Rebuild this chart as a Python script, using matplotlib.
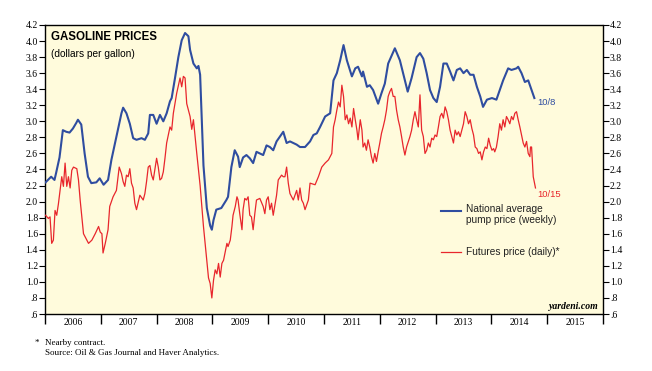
import numpy as np
import matplotlib
matplotlib.use("Agg")
import matplotlib.pyplot as plt
from matplotlib.ticker import FixedLocator, FuncFormatter

# national average pump price (weekly)
pump_t = [2006.01, 2006.08, 2006.11, 2006.17, 2006.20, 2006.26, 2006.32, 2006.38, 2006.44, 2006.50,
          2006.56, 2006.59, 2006.65, 2006.71, 2006.77, 2006.83, 2006.92, 2006.98, 2007.05, 2007.13,
          2007.19, 2007.28, 2007.37, 2007.40, 2007.46, 2007.52, 2007.58, 2007.64, 2007.73, 2007.79,
          2007.85, 2007.88, 2007.94, 2008.00, 2008.06, 2008.12, 2008.18, 2008.24, 2008.27, 2008.33,
          2008.39, 2008.45, 2008.51, 2008.57, 2008.60, 2008.66, 2008.72, 2008.75, 2008.78, 2008.81,
          2008.84, 2008.90, 2008.96, 2008.99, 2009.02, 2009.07, 2009.16, 2009.25, 2009.28, 2009.34,
          2009.40, 2009.46, 2009.49, 2009.55, 2009.61, 2009.67, 2009.73, 2009.79, 2009.85, 2009.91,
          2009.97, 2010.03, 2010.09, 2010.15, 2010.21, 2010.27, 2010.33, 2010.39, 2010.45, 2010.51,
          2010.57, 2010.66, 2010.75, 2010.81, 2010.87, 2010.93, 2011.02, 2011.11, 2011.17, 2011.23,
          2011.29, 2011.35, 2011.41, 2011.50, 2011.56, 2011.61, 2011.68, 2011.70, 2011.77, 2011.82,
          2011.88, 2011.97, 2012.03, 2012.09, 2012.15, 2012.27, 2012.36, 2012.45, 2012.50, 2012.57,
          2012.66, 2012.72, 2012.78, 2012.84, 2012.90, 2012.96, 2013.02, 2013.08, 2013.14, 2013.20,
          2013.26, 2013.32, 2013.38, 2013.44, 2013.50, 2013.56, 2013.62, 2013.68, 2013.74, 2013.80,
          2013.85, 2013.92, 2014.01, 2014.09, 2014.15, 2014.21, 2014.30, 2014.36, 2014.45, 2014.48,
          2014.54, 2014.60, 2014.66, 2014.77]
pump_v = [2.24, 2.29, 2.31, 2.27, 2.36, 2.55, 2.89, 2.87, 2.86, 2.91,
          2.98, 3.02, 2.96, 2.60, 2.31, 2.23, 2.24, 2.29, 2.21, 2.27,
          2.52, 2.81, 3.10, 3.17, 3.10, 2.97, 2.79, 2.77, 2.79, 2.77,
          2.85, 3.08, 3.08, 2.97, 3.08, 3.00, 3.10, 3.25, 3.29, 3.54,
          3.80, 4.01, 4.10, 4.06, 3.89, 3.72, 3.66, 3.69, 3.58, 3.02,
          2.45, 1.92, 1.70, 1.65, 1.77, 1.90, 1.92, 2.02, 2.06, 2.43,
          2.64, 2.56, 2.43, 2.55, 2.58, 2.54, 2.48, 2.62, 2.60, 2.58,
          2.70, 2.68, 2.64, 2.75, 2.81, 2.87, 2.73, 2.75, 2.73, 2.71,
          2.68, 2.68, 2.75, 2.83, 2.85, 2.93, 3.06, 3.10, 3.51, 3.60,
          3.76, 3.95, 3.76, 3.56, 3.66, 3.68, 3.56, 3.62, 3.43, 3.45,
          3.39, 3.22, 3.35, 3.47, 3.72, 3.91, 3.76, 3.51, 3.37, 3.54,
          3.80, 3.85, 3.78, 3.60, 3.39, 3.29, 3.24, 3.43, 3.72, 3.72,
          3.62, 3.51, 3.64, 3.66, 3.60, 3.64, 3.58, 3.58, 3.43, 3.31,
          3.18, 3.27, 3.29, 3.27, 3.39, 3.51, 3.66, 3.64, 3.66, 3.68,
          3.60, 3.49, 3.51, 3.29]

# futures price (daily)
fut_t = [2006.01, 2006.06, 2006.09, 2006.12, 2006.15, 2006.18, 2006.21, 2006.24, 2006.27, 2006.30,
         2006.33, 2006.36, 2006.39, 2006.42, 2006.45, 2006.48, 2006.51, 2006.57, 2006.60, 2006.63,
         2006.69, 2006.75, 2006.78, 2006.84, 2006.90, 2006.96, 2006.99, 2007.02, 2007.04, 2007.08,
         2007.13, 2007.16, 2007.22, 2007.28, 2007.33, 2007.37, 2007.40, 2007.43, 2007.46, 2007.49,
         2007.52, 2007.55, 2007.58, 2007.61, 2007.64, 2007.70, 2007.76, 2007.79, 2007.82, 2007.85,
         2007.88, 2007.91, 2007.94, 2008.00, 2008.03, 2008.06, 2008.09, 2008.12, 2008.15, 2008.18,
         2008.24, 2008.27, 2008.30, 2008.36, 2008.42, 2008.45, 2008.48, 2008.51, 2008.54, 2008.60,
         2008.63, 2008.66, 2008.72, 2008.78, 2008.84, 2008.90, 2008.93, 2008.96, 2008.99, 2009.02,
         2009.05, 2009.08, 2009.11, 2009.14, 2009.17, 2009.20, 2009.26, 2009.28, 2009.32, 2009.35,
         2009.37, 2009.41, 2009.44, 2009.46, 2009.49, 2009.53, 2009.55, 2009.58, 2009.61, 2009.64,
         2009.67, 2009.70, 2009.73, 2009.76, 2009.79, 2009.85, 2009.91, 2009.94, 2009.97, 2010.00,
         2010.03, 2010.06, 2010.09, 2010.15, 2010.18, 2010.24, 2010.27, 2010.30, 2010.33, 2010.36,
         2010.39, 2010.45, 2010.48, 2010.51, 2010.54, 2010.57, 2010.60, 2010.63, 2010.66, 2010.69,
         2010.72, 2010.75, 2010.84, 2010.90, 2010.96, 2011.02, 2011.08, 2011.14, 2011.17, 2011.20,
         2011.23, 2011.26, 2011.29, 2011.32, 2011.35, 2011.38, 2011.41, 2011.44, 2011.47, 2011.50,
         2011.53, 2011.56, 2011.59, 2011.61, 2011.65, 2011.68, 2011.70, 2011.73, 2011.76, 2011.79,
         2011.82, 2011.85, 2011.88, 2011.91, 2011.94, 2011.97, 2012.00, 2012.03, 2012.06, 2012.09,
         2012.12, 2012.15, 2012.18, 2012.21, 2012.24, 2012.27, 2012.30, 2012.33, 2012.36, 2012.39,
         2012.42, 2012.45, 2012.48, 2012.54, 2012.57, 2012.60, 2012.63, 2012.66, 2012.69, 2012.72,
         2012.75, 2012.78, 2012.81, 2012.84, 2012.87, 2012.90, 2012.93, 2012.96, 2012.99, 2013.02,
         2013.05, 2013.08, 2013.11, 2013.14, 2013.17, 2013.20, 2013.23, 2013.26, 2013.29, 2013.32,
         2013.35, 2013.38, 2013.41, 2013.44, 2013.47, 2013.50, 2013.53, 2013.56, 2013.59, 2013.62,
         2013.65, 2013.68, 2013.71, 2013.74, 2013.77, 2013.80, 2013.83, 2013.86, 2013.89, 2013.92,
         2013.95, 2013.98, 2014.01, 2014.04, 2014.06, 2014.09, 2014.12, 2014.15, 2014.18, 2014.21,
         2014.24, 2014.27, 2014.30, 2014.33, 2014.36, 2014.39, 2014.42, 2014.45, 2014.48, 2014.51,
         2014.54, 2014.57, 2014.60, 2014.63, 2014.66, 2014.69, 2014.70, 2014.72, 2014.75, 2014.79]
fut_v = [1.83, 1.79, 1.81, 1.48, 1.52, 1.89, 1.83, 1.97, 2.14, 2.31,
         2.19, 2.48, 2.19, 2.31, 2.17, 2.39, 2.43, 2.41, 2.27, 2.02,
         1.60, 1.52, 1.48, 1.52, 1.60, 1.69, 1.62, 1.60, 1.36, 1.48,
         1.65, 1.94, 2.06, 2.14, 2.43, 2.35, 2.25, 2.19, 2.33, 2.31,
         2.41, 2.23, 2.17, 1.98, 1.90, 2.08, 2.02, 2.10, 2.25, 2.43,
         2.45, 2.33, 2.27, 2.54, 2.43, 2.27, 2.29, 2.37, 2.54, 2.73,
         2.93, 2.89, 3.10, 3.35, 3.54, 3.43, 3.56, 3.54, 3.22, 3.06,
         2.90, 3.02, 2.60, 2.20, 1.69, 1.27, 1.05, 0.98, 0.80, 1.02,
         1.15, 1.10, 1.23, 1.06, 1.23, 1.27, 1.48, 1.44, 1.52, 1.69,
         1.83, 1.94, 2.06, 2.02, 1.85, 1.65, 1.90, 2.04, 2.02, 2.06,
         1.83, 1.81, 1.65, 1.85, 2.02, 2.04, 1.94, 1.85, 2.02, 2.06,
         1.90, 1.98, 1.83, 2.08, 2.27, 2.33, 2.31, 2.31, 2.43, 2.23,
         2.10, 2.02, 2.08, 2.14, 2.02, 2.17, 2.02, 1.98, 1.90, 1.96,
         2.02, 2.23, 2.21, 2.31, 2.43, 2.48, 2.52, 2.60, 2.93, 3.02,
         3.14, 3.24, 3.18, 3.45, 3.31, 3.02, 3.08, 2.97, 3.04, 2.93,
         3.16, 3.02, 2.89, 2.77, 3.02, 2.89, 2.68, 2.73, 2.64, 2.77,
         2.68, 2.56, 2.48, 2.60, 2.50, 2.62, 2.73, 2.85, 2.93, 3.02,
         3.14, 3.31, 3.37, 3.41, 3.31, 3.31, 3.14, 3.02, 2.93, 2.81,
         2.68, 2.58, 2.68, 2.81, 2.89, 3.02, 3.12, 3.02, 2.93, 3.33,
         2.89, 2.81, 2.60, 2.64, 2.73, 2.68, 2.79, 2.77, 2.83, 2.81,
         2.93, 3.06, 3.10, 3.04, 3.18, 3.12, 3.02, 2.89, 2.81, 2.73,
         2.89, 2.83, 2.87, 2.81, 2.89, 2.97, 3.12, 3.06, 2.97, 3.02,
         2.91, 2.83, 2.68, 2.66, 2.60, 2.62, 2.52, 2.62, 2.68, 2.66,
         2.79, 2.70, 2.64, 2.66, 2.62, 2.68, 2.81, 2.97, 2.89, 3.02,
         2.93, 3.06, 3.02, 2.97, 3.06, 3.02, 3.10, 3.12, 3.02, 2.93,
         2.83, 2.73, 2.68, 2.75, 2.60, 2.56, 2.68, 2.68, 2.31, 2.17]

years = list(range(2006, 2016))
y_ticks = np.round(np.arange(0.6, 4.21, 0.2), 1)

blue = "#2f4da0"
red = "#e8262c"
bg = "#fffbdc"
serif = "Liberation Serif"
sans = "Liberation Sans"

fig = plt.figure(figsize=(6.52, 3.71), dpi=100)
ax = fig.add_axes([45 / 652, 57 / 371, 558 / 652, 289 / 371])
ax.set_facecolor(bg)

ax.plot(fut_t, fut_v, color=red, lw=0.9, zorder=3)
ax.plot(pump_t, pump_v, color=blue, lw=1.5, zorder=4)

ax.set_xlim(2006, 2016)
ax.set_ylim(0.6, 4.2)

def fmt(v, pos):
    s = "%.1f" % v
    return s[1:] if s.startswith("0") else s

ax.yaxis.set_major_locator(FixedLocator(y_ticks))
ax.yaxis.set_major_formatter(FuncFormatter(fmt))
ax.tick_params(axis="y", which="major", direction="out", length=4, width=0.8,
               labelsize=7, pad=1, right=True, labelright=True)
for t in ax.yaxis.get_major_ticks():
    t.label1.set_fontfamily(serif)
    t.label2.set_fontfamily(serif)

ax.xaxis.set_major_locator(FixedLocator(years + [2016]))
ax.xaxis.set_major_formatter(FuncFormatter(lambda v, p: ""))
ax.xaxis.set_minor_locator(FixedLocator([y + 0.5 for y in years]))
ax.xaxis.set_minor_formatter(FuncFormatter(lambda v, p: "%d" % int(v)))
ax.tick_params(axis="x", which="major", direction="out", length=7, width=1.0)
ax.tick_params(axis="x", which="minor", length=0, labelsize=7, pad=3)
for lab in ax.xaxis.get_minorticklabels():
    lab.set_fontfamily(serif)

for side in ["left", "right", "bottom", "top"]:
    ax.spines[side].set_linewidth(1.0)
ax.spines["top"].set_linestyle((0, (1, 1)))

ax.text(0.011, 0.978, "GASOLINE PRICES", transform=ax.transAxes, fontsize=8.3,
        fontweight="bold", fontfamily=sans, va="top", ha="left")
ax.text(0.011, 0.918, "(dollars per gallon)", transform=ax.transAxes, fontsize=7.3,
        fontfamily=sans, va="top", ha="left")

# legend drawn by hand
ax.plot([0.71, 0.745], [0.357, 0.357], transform=ax.transAxes, color=blue, lw=1.5)
ax.text(0.754, 0.38, "National average\npump price (weekly)", transform=ax.transAxes,
        fontsize=7.3, fontfamily=sans, va="top", ha="left",
        linespacing=1.05, color="#222222")
ax.plot([0.71, 0.745], [0.215, 0.215], transform=ax.transAxes, color=red, lw=0.9)
ax.text(0.754, 0.215, "Futures price (daily)*", transform=ax.transAxes,
        fontsize=7.3, fontfamily=sans, va="center", ha="left", color="#222222")

ax.text(pump_t[-1] + 0.05, pump_v[-1] - 0.06, "10/8", color=blue, fontsize=6.8,
        fontfamily=sans, va="center", ha="left")
ax.text(fut_t[-1] + 0.03, fut_v[-1] - 0.08, "10/15", color=red, fontsize=6.8,
        fontfamily=sans, va="center", ha="left")

ax.text(0.992, 0.012, "yardeni.com", transform=ax.transAxes, fontsize=7,
        fontfamily=serif, fontweight="bold", fontstyle="italic",
        va="bottom", ha="right")

fig.text(35 / 652, 1 - 343 / 371, "*", fontsize=6.5, fontfamily=serif, va="center")
fig.text(45 / 652, 1 - 343 / 371, "Nearby contract.", fontsize=6.5,
         fontfamily=serif, va="center")
fig.text(45 / 652, 1 - 353 / 371, "Source: Oil & Gas Journal and Haver Analytics.", fontsize=6.5,
         fontfamily=serif, va="center")

fig.savefig("out.png", dpi=100)
